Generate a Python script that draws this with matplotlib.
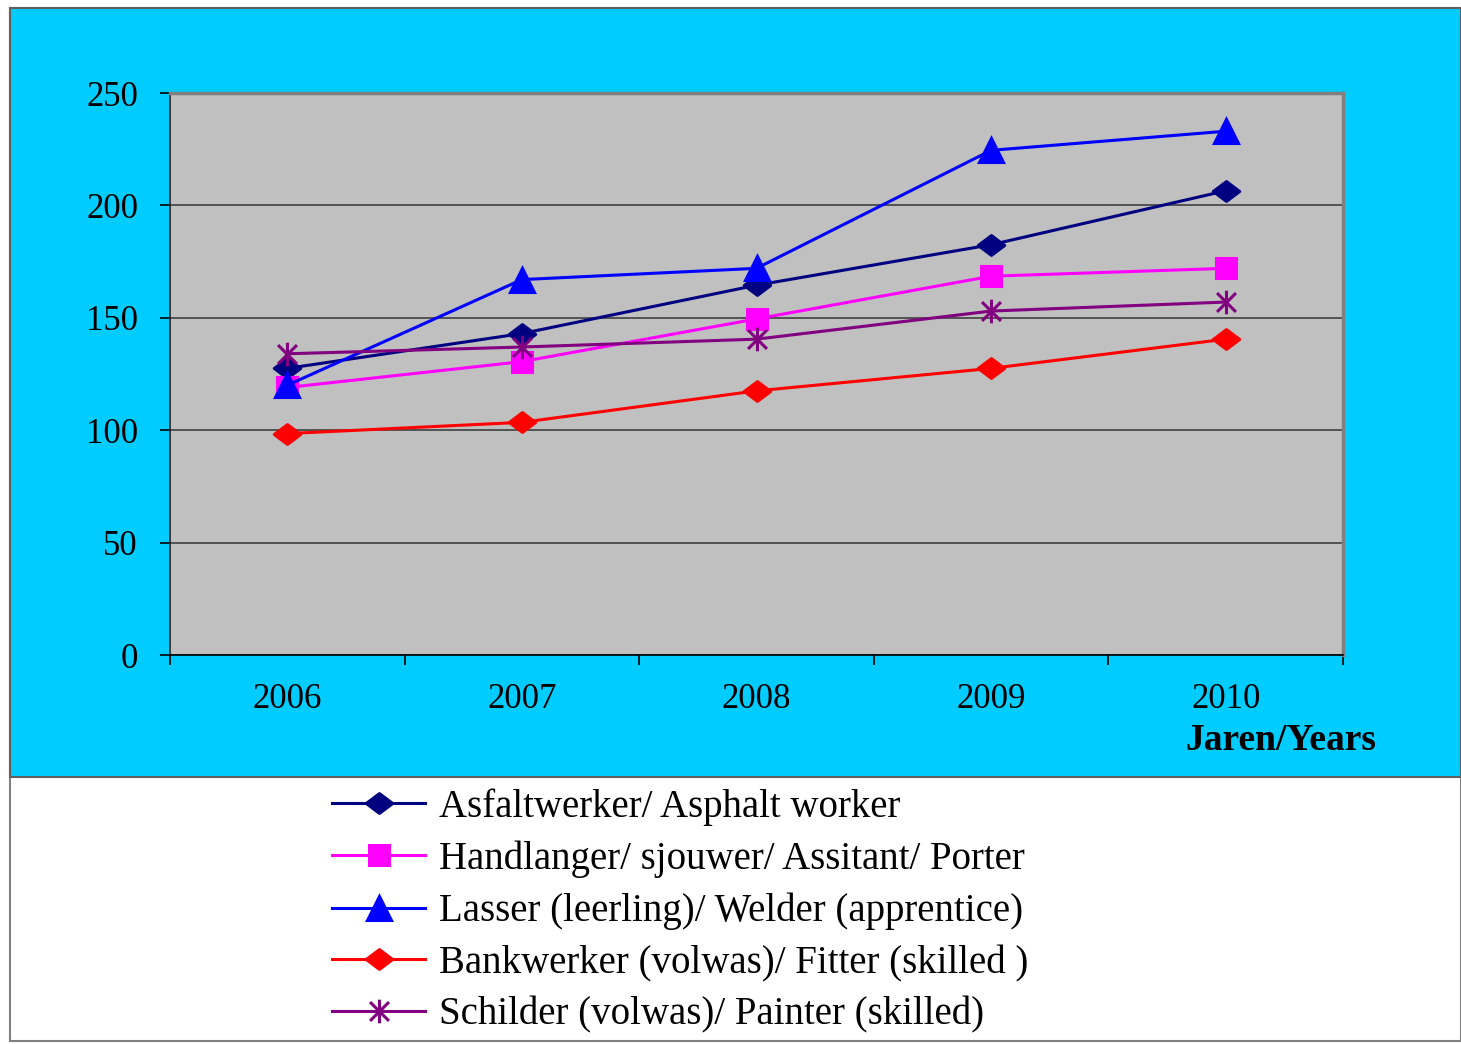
import matplotlib.pyplot as plt
from matplotlib.path import Path
from matplotlib.patches import Rectangle
import numpy as np

plt.rcParams['font.family'] = ['Liberation Serif', 'DejaVu Serif']

years = ['2006', '2007', '2008', '2009', '2010']
asphalt = [127.5, 143, 164.5, 182.5, 206.5]
porter = [119, 130.5, 149.5, 168.5, 172]
welder = [120, 167, 172, 224.5, 233]
fitter = [98.5, 103.5, 117.5, 127.5, 140.5]
painter = [134, 137, 140.5, 153, 157]

labels = ['Asfaltwerker/ Asphalt worker',
          'Handlanger/ sjouwer/ Assitant/ Porter',
          'Lasser (leerling)/ Welder (apprentice)',
          'Bankwerker (volwas)/ Fitter (skilled )',
          'Schilder (volwas)/ Painter (skilled)']

# flattened diamond and excel-style star
diamond = Path([(-1, 0), (0, 0.75), (1, 0), (0, -0.75), (-1, 0)],
               [Path.MOVETO, Path.LINETO, Path.LINETO, Path.LINETO, Path.CLOSEPOLY])
star = Path([(0, -1), (0, 1), (-0.8, -0.8), (0.8, 0.8), (-0.8, 0.8), (0.8, -0.8)],
            [Path.MOVETO, Path.LINETO, Path.MOVETO, Path.LINETO, Path.MOVETO, Path.LINETO])

series = [
    (asphalt, '#000080', diamond, 19),
    (porter, '#FF00FF', 's', 14),
    (welder, '#0000FF', '^', 17),
    (fitter, '#FF0000', diamond, 19),
    (painter, '#800080', star, 17),
]

fig = plt.figure(figsize=(14.61, 10.44), dpi=100)
fig.patch.set_facecolor('white')

# background panels
fig.patches.append(Rectangle((10 / 1461, 1 - 1041 / 1044), 1451 / 1461, 1033 / 1044,
                             transform=fig.transFigure, facecolor='white',
                             edgecolor='#808080', lw=1.5, zorder=-10))
fig.patches.append(Rectangle((10 / 1461, 1 - 777 / 1044), 1451 / 1461, 769 / 1044,
                             transform=fig.transFigure, facecolor='#00CCFF',
                             edgecolor='#606060', lw=1.5, zorder=-9))

ax = fig.add_axes([170 / 1461, 1 - 655 / 1044, 1173 / 1461, 562 / 1044])
ax.set_facecolor('#C0C0C0')

x = np.arange(len(years))
handles = []
for vals, col, mk, ms in series:
    h, = ax.plot(x, vals, color=col, lw=2.2, marker=mk, markersize=ms,
                 markerfacecolor=col, markeredgecolor=col, markeredgewidth=2.2,
                 clip_on=False, zorder=3)
    handles.append(h)

ax.set_xlim(-0.5, 4.5)
ax.set_ylim(0, 250)
ax.set_yticks([0, 50, 100, 150, 200, 250])
ax.yaxis.grid(True, color='#404040', lw=1.2)
ax.set_axisbelow(True)

ax.set_xticks(x)
ax.set_xticklabels(years)
ax.set_xticks(np.arange(-0.5, 5.0, 1.0), minor=True)
ax.tick_params(axis='x', which='major', length=0, pad=20, labelsize=25)
ax.tick_params(axis='x', which='minor', length=7, direction='out', width=1.2)
ax.tick_params(axis='y', length=7, direction='out', width=1.2, pad=16, labelsize=25)

for side in ['top', 'right']:
    ax.spines[side].set_color('#808080')
    ax.spines[side].set_linewidth(2.5)
ax.spines['left'].set_color('#202020')
ax.spines['bottom'].set_color('#000000')
ax.spines['left'].set_linewidth(1.2)
ax.spines['bottom'].set_linewidth(1.2)

fig.text(1185 / 1461, 1 - 741 / 1044, 'Jaren/Years', fontsize=27,
         fontweight='bold', ha='left', va='center')

fig.legend(handles, labels, loc='upper left',
           bbox_to_anchor=(332 / 1461, 1 - 788 / 1044),
           frameon=False, fontsize=28, handlelength=2.4, handletextpad=0.35,
           labelspacing=0.38, borderaxespad=0, borderpad=0)

plt.savefig('out.png', dpi=100)
plt.close()
